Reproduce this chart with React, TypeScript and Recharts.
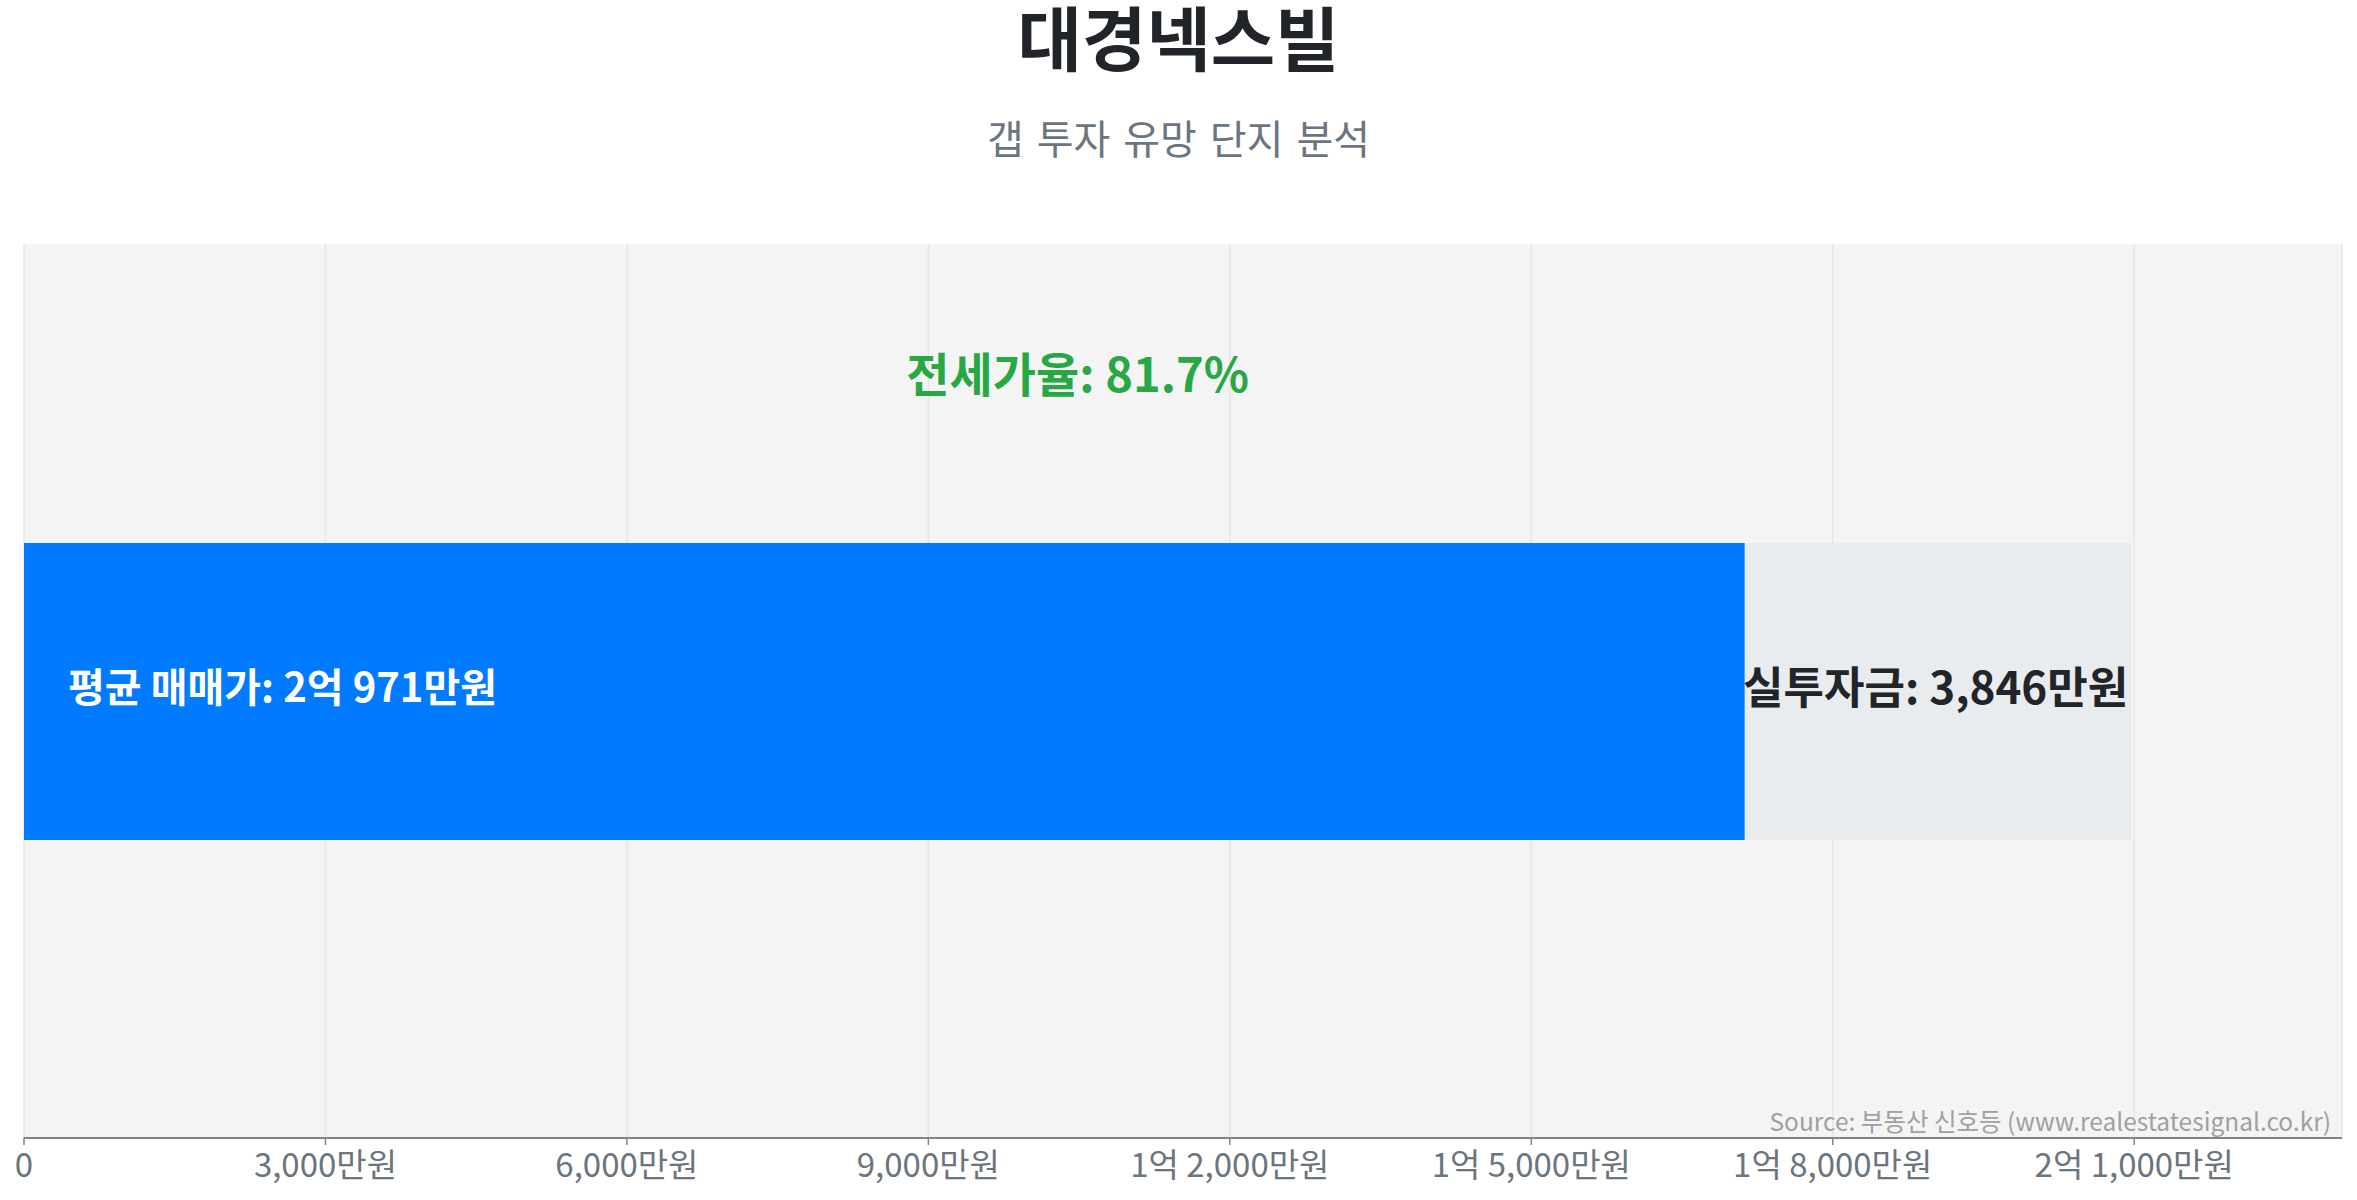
import { Bar, BarChart, CartesianGrid, LabelList, ReferenceDot, XAxis, YAxis } from "recharts";

const complexNames = ["대경넥스빌"];
const avgSalePrice = [20971];
const jeonsePrice = [17125];
const investCash = [3846];
const xTicks = [0, 3000, 6000, 9000, 12000, 15000, 18000, 21000];
const xMax = 23068;

const FONT = '"Noto Sans CJK KR", "Noto Sans", sans-serif';

const data = complexNames.map((name, i) => ({
  name,
  sale: avgSalePrice[i],
  jeonse: jeonsePrice[i],
  gap: investCash[i],
}));

function formatWon(v: number) {
  if (v === 0) return "0";
  const eok = Math.floor(v / 10000);
  const man = v % 10000;
  const parts: string[] = [];
  if (eok) parts.push(`${eok}억`);
  if (man) parts.push(`${man.toLocaleString("en-US")}만원`);
  else parts[parts.length - 1] += "원";
  return parts.join(" ");
}

export default function App() {
  const row = data[0];
  const ratio = ((row.jeonse / row.sale) * 100).toFixed(1);

  return (
    <div style={{ position: "absolute", left: 0, top: 0, width: 2357, height: 1200, background: "#fff", fontFamily: FONT }}>
      <svg width={2357} height={110} style={{ position: "absolute", left: 0, top: 0 }}>
        <text
          x={1178.5}
          y={66}
          textAnchor="middle"
          fontSize={70}
          fontWeight={700}
          fill="#212529"
          fontFamily={FONT}
        >
          {row.name}
        </text>
      </svg>
      <div
        style={{
          position: "absolute",
          top: 112,
          left: 0,
          width: 2357,
          textAlign: "center",
          fontSize: 40,
          color: "#6c757d",
          lineHeight: "50px",
          wordSpacing: 4,
        }}
      >
        갭 투자 유망 단지 분석
      </div>

      <BarChart
        width={2357}
        height={1200}
        data={data}
        layout="vertical"
        margin={{ top: 244, right: 15, left: 24, bottom: 7 }}
        style={{ position: "absolute", left: 0, top: 0, fontFamily: FONT }}
      >
        <CartesianGrid horizontal={false} fill="#f4f4f4" stroke="#e6e6e6" strokeWidth={1.5} />
        <XAxis
          type="number"
          domain={[0, xMax]}
          ticks={xTicks}
          interval={0}
          tickFormatter={formatWon}
          height={55}
          tickSize={7}
          tickMargin={9}
          axisLine={{ stroke: "#80868d", strokeWidth: 2 }}
          tickLine={{ stroke: "#80868d", strokeWidth: 1.5 }}
          tick={{ fill: "#6c757d", fontSize: 33, fontFamily: FONT }}
        />
        <YAxis
          type="category"
          dataKey="name"
          width={0}
          tick={false}
          tickLine={false}
          axisLine={{ stroke: "#80868d", strokeWidth: 1.5 }}
        />
        <Bar dataKey="jeonse" stackId="a" fill="#007bff" barSize={297} isAnimationActive={false}>
          <LabelList
            dataKey="sale"
            content={(p: any) => (
              <text
                x={p.x + 44}
                y={p.y + p.height / 2 - 7}
                fill="#ffffff"
                fontSize={40}
                fontWeight={700}
                fontFamily={FONT}
                dominantBaseline="central"
              >
                {`평균 매매가: ${formatWon(p.value)}`}
              </text>
            )}
          />
        </Bar>
        <Bar dataKey="gap" stackId="a" fill="#e9ecef" barSize={297} isAnimationActive={false}>
          <LabelList
            dataKey="gap"
            content={(p: any) => (
              <text
                x={p.x + p.width - 3}
                y={p.y + p.height / 2 - 7}
                fill="#212529"
                fontSize={44}
                fontWeight={700}
                fontFamily={FONT}
                textAnchor="end"
                dominantBaseline="central"
              >
                {`실투자금: ${formatWon(p.value)}`}
              </text>
            )}
          />
        </Bar>
        <ReferenceDot
          x={row.sale / 2}
          y={row.name}
          r={0}
          ifOverflow="visible"
          shape={(p: any) => (
            <text
              x={p.cx}
              y={p.cy - 320}
              fill="#28a745"
              fontSize={47}
              fontWeight={700}
              fontFamily={FONT}
              textAnchor="middle"
              dominantBaseline="central"
            >
              {`전세가율: ${ratio}%`}
            </text>
          )}
        />
      </BarChart>

      <div
        style={{
          position: "absolute",
          right: 2357 - 2331,
          top: 1105,
          fontSize: 24.5,
          color: "#a0a0a0",
          lineHeight: "32px",
          whiteSpace: "nowrap",
        }}
      >
        Source: 부동산 신호등 (www.realestatesignal.co.kr)
      </div>
    </div>
  );
}
